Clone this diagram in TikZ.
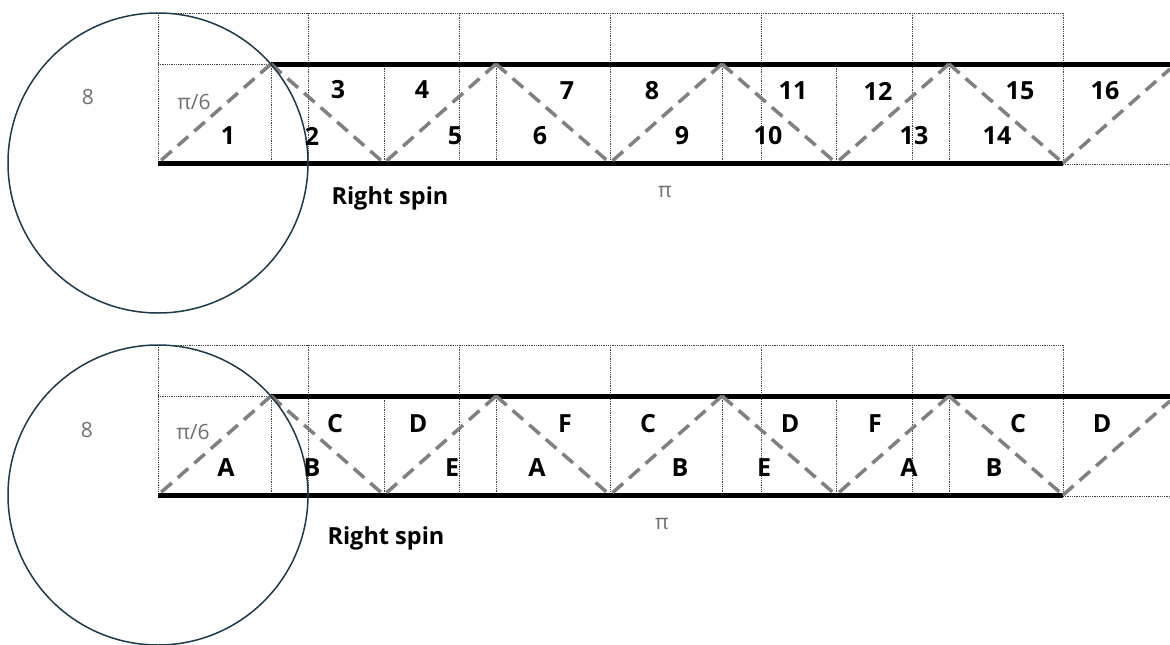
\documentclass[tikz,border=0pt]{standalone}
\usepackage{fontspec}
\setmainfont{Open Sans}
\definecolor{circ}{HTML}{1E3A4A}
\definecolor{raygray}{HTML}{808080}
\definecolor{labgray}{HTML}{707070}
\tikzset{
  gridline/.style={densely dotted, line width=0.8pt, black!75},
  wall/.style={line width=5pt, black},
  ray/.style={raygray, line width=3.5pt, dash pattern=on 14pt off 8pt},
  ring/.style={circ, line width=1.5pt},
  num/.style={font=\bfseries\fontsize{25}{25}\selectfont, inner sep=1pt},
  glab/.style={font=\fontsize{21}{21}\selectfont, text=labgray, inner sep=1pt},
  spin/.style={font=\bfseries\fontsize{23.5}{23.5}\selectfont, inner sep=1pt},
}
\newcommand\drawpanel[1]{%
  % upper dotted grid
  \draw[gridline] (158,13) -- (1063,13);
  \foreach \x in {158,308,459,610,761,912,1063}
    \draw[gridline] (\x,13) -- (\x,163);
  \foreach \x in {271,384,496,722,836,949}
    \draw[gridline] (\x,64) -- (\x,163);
  \draw[gridline] (158,64) -- (271,64);
  \draw[gridline] (1063,164) -- (1170,164);
  % walls
  \draw[wall] (271,64) -- (1170,64);
  \draw[wall] (158,163) -- (1063,163);
  % zigzag ray
  \coordinate (#1-p0) at (158,163);
  \coordinate (#1-p1) at (271,64);
  \coordinate (#1-p2) at (384,163);
  \coordinate (#1-p3) at (496,64);
  \coordinate (#1-p4) at (610,163);
  \coordinate (#1-p5) at (722,64);
  \coordinate (#1-p6) at (836,163);
  \coordinate (#1-p7) at (949,64);
  \coordinate (#1-p8) at (1063,163);
  \coordinate (#1-p9) at (1170,69);
  \draw[ray] (#1-p1) -- (#1-p0);
  \draw[ray] (#1-p1) -- (#1-p2);
  \draw[ray] (#1-p3) -- (#1-p2);
  \draw[ray] (#1-p3) -- (#1-p4);
  \draw[ray] (#1-p5) -- (#1-p4);
  \draw[ray] (#1-p5) -- (#1-p6);
  \draw[ray] (#1-p7) -- (#1-p6);
  \draw[ray] (#1-p7) -- (#1-p8);
  \draw[ray] (#1-p8) -- (#1-p9);
  % circle
  \coordinate (#1-c) at (158,163);
  \draw[ring] (#1-c) circle[radius=150];
}
\begin{document}
\begin{tikzpicture}[x=1pt,y=-1pt]
\useasboundingbox (0,0) rectangle (1170,645);
\fill[white] (0,0) rectangle (1170,645);

% ---------- top panel ----------
\begin{scope}
\drawpanel{t}
\node[glab] (t-eight) at (88,97) {8};
\node[glab] (t-pi6) at (194,102) {π/6};
\node[glab] (t-pi) at (665,192) {π};
\node[spin] (t-spin) at (390,198) {Right spin};
\foreach \x/\y/\t in {228/136/1,312/136/2,338/90/3,422/90/4,455/136/5,540/136/6,567/91/7,652/91/8,682/136/9,768/136/10,793/91/11,878/91/12,914/136/13,997/136/14,1020/91/15,1105/91/16}
  \node[num] (t-n\t) at (\x,\y) {\t};
\end{scope}

% ---------- bottom panel ----------
\begin{scope}[yshift=-332pt]
\drawpanel{b}
\node[glab] (b-eight) at (87,98) {8};
\node[glab] (b-pi6) at (193,100) {π/6};
\node[glab] (b-pi) at (662,192) {π};
\node[spin] (b-spin) at (386,206) {Right spin};
\foreach \x/\y/\t/\k in {226/136/A/1,312/136/B/2,335/92/C/3,418/92/D/4,452/136/E/5,537/136/A/6,565/92/F/7,648/92/C/8,680/136/B/9,764/136/E/10,790/92/D/11,875/92/F/12,909/136/A/13,994/136/B/14,1018/92/C/15,1102/92/D/16}
  \node[num] (b-n\k) at (\x,\y) {\t};
\end{scope}
\end{tikzpicture}
\end{document}
